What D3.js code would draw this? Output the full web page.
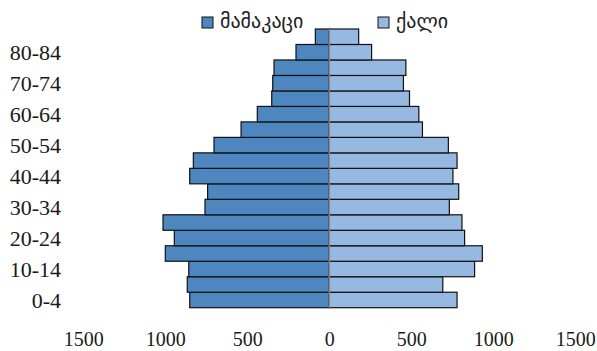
<!DOCTYPE html>
<html><head><meta charset="utf-8">
<script src="https://cdn.jsdelivr.net/npm/d3@7"></script>
<style>body{margin:0;background:#fff}svg{display:block}
.serif{font-family:"Liberation Serif","DejaVu Serif",serif}
.geo{font-family:"DejaVu Sans",sans-serif}</style>
</head><body>
<svg id="c" width="597" height="351"></svg>
<script>
const ageGroups = ["0-4","5-9","10-14","15-19","20-24","25-29","30-34","35-39","40-44","45-49","50-54","55-59","60-64","65-69","70-74","75-79","80-84","85+"];
const male   = [851,866,857,1000,945,1014,758,742,851,829,703,538,439,351,345,337,203,85];
const female = [779,692,886,933,825,809,732,789,754,779,726,568,546,489,452,467,258,179];
const tickValues = [-1500,-1000,-500,0,500,1000,1500];
const seriesNames = ["მამაკაცი","ქალი"];
const colors = ["#4e87c0","#95b9e1"];

const svg = d3.select("#c");
const x = d3.scaleLinear().domain([-1500,1500]).range([83.3,575.3]);
const y = d3.scaleBand().domain(ageGroups.slice().reverse()).range([29,307.7]).padding(0);

const data = ageGroups.map((a,i)=>({a, m:male[i], f:female[i]}));

svg.append("g").selectAll("rect").data(data).join("rect")
  .attr("x", d=>x(-d.m)).attr("y", d=>y(d.a))
  .attr("width", d=>x(0)-x(-d.m)).attr("height", y.bandwidth())
  .attr("fill", colors[0]).attr("stroke","#111").attr("stroke-width",1.2);
svg.append("g").selectAll("rect").data(data).join("rect")
  .attr("x", x(0)).attr("y", d=>y(d.a))
  .attr("width", d=>x(d.f)-x(0)).attr("height", y.bandwidth())
  .attr("fill", colors[1]).attr("stroke","#111").attr("stroke-width",1.2);

svg.append("line").attr("x1",x(0)).attr("x2",x(0)).attr("y1",29).attr("y2",307.7)
  .attr("stroke","#888").attr("stroke-width",1.5);

svg.append("g").selectAll("text").data(ageGroups.filter((d,i)=>i%2===0)).join("text")
  .attr("class","serif")
  .attr("x",61).attr("y",d=>y(d)+y.bandwidth()/2).attr("dy","0.35em")
  .attr("text-anchor","end").attr("font-size",22)
  .attr("fill","#1a1a1a").text(d=>d);

const xAxis = d3.axisBottom(x).tickValues(tickValues).tickFormat(d=>Math.abs(d)).tickSize(0);
const ax = svg.append("g").attr("transform","translate(0,330)").call(xAxis);
ax.select(".domain").remove();
ax.selectAll("text").attr("class","serif").attr("dy",0).attr("y",16)
  .attr("font-size",20).attr("fill","#1a1a1a");
ax.attr("font-family",null);

const lg = svg.append("g");
const lx = [202,378];
seriesNames.forEach((n,i)=>{
  lg.append("rect").attr("x",lx[i]).attr("y",17).attr("width",11).attr("height",11)
    .attr("fill",colors[i]).attr("stroke","#111").attr("stroke-width",1);
  lg.append("text").attr("class","geo").attr("x",lx[i]+18).attr("y",28)
    .attr("font-size",20).attr("fill","#222").text(n);
});
</script>
</body></html>
